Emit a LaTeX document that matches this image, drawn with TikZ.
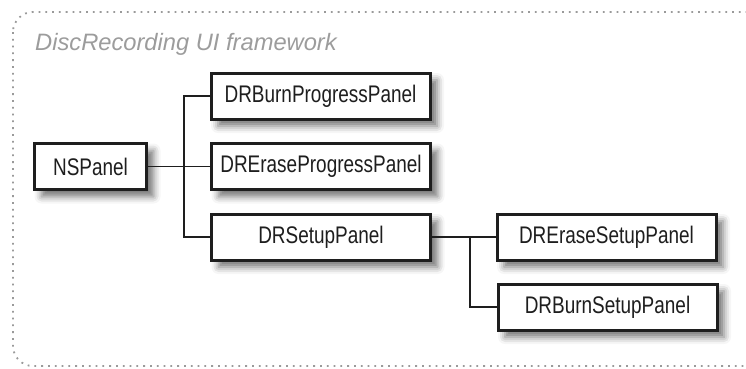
\documentclass[tikz,border=0pt]{standalone}
\usepackage{fontspec}
\setmainfont{Liberation Sans}
\newfontfamily\boxfont[FakeStretch=0.79]{Liberation Sans}
\usetikzlibrary{shadows.blur}
\definecolor{ink}{HTML}{1E1E1E}
\definecolor{frame}{HTML}{9A9A9A}
\definecolor{caption}{HTML}{9C9C9C}

\begin{document}
\begin{tikzpicture}[
  x=1pt, y=-1pt,
  panel/.style={draw=ink, line width=3pt, fill=white, text=ink,
                minimum height=46pt, inner sep=0pt,
                font=\boxfont\fontsize{24}{28}\selectfont,
                blur shadow={shadow xshift=7pt, shadow yshift=-7pt,
                             shadow blur radius=7pt, shadow opacity=55}},
  wide/.style={panel, minimum width=219pt},
  link/.style={draw=ink, line width=1.4pt}
]

\path[use as bounding box, clip] (0,0) rectangle (746,368);

% group frame
\draw[frame, line width=1.8pt, dash pattern=on 1.8pt off 5pt, rounded corners=20pt]
  (13,12) rectangle (770,366);
\node[font=\itshape\fontsize{23.7}{28}\selectfont, text=caption, anchor=base west,
      inner sep=0pt] (title) at (35,50) {DiscRecording UI framework};

% classes
\node[panel, minimum width=112pt] (ns) at (90.5,166.5) {NSPanel};
\node[wide] (burnprog) at (320.5,96) {DRBurnProgressPanel};
\node[wide] (eraseprog) at (321,166.5) {DREraseProgressPanel};
\node[wide] (setup) at (321,237) {DRSetupPanel};
\node[wide] (erasesetup) at (606.5,237) {DREraseSetupPanel};
\node[wide] (burnsetup) at (607.5,307) {DRBurnSetupPanel};

% inheritance lines
\coordinate (fork1) at (184,166.5);
\coordinate (fork2) at (470,237);
\draw[link] (ns.east) -- (eraseprog.west);
\draw[link] (burnprog.west) -| (fork1) |- (setup.west);
\draw[link] (setup.east) -- (erasesetup.west);
\draw[link] (fork2) |- (burnsetup.west);

\end{tikzpicture}
\end{document}
